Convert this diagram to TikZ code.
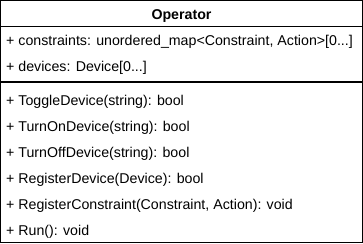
\documentclass[tikz,border=0pt]{standalone}
\usepackage{fontspec}
\setmainfont{Liberation Sans}
\begin{document}
\begin{tikzpicture}[x=1pt,y=-1pt,
  member/.style={anchor=west,inner sep=0pt,font=\fontsize{14.2}{16}\selectfont},
  title/.style={inner sep=0pt,font=\fontsize{14.2}{16}\selectfont\bfseries},
  frame/.style={draw=black,line width=1.3pt}]
  \useasboundingbox (0,0) rectangle (363,243);
  % class box with header and compartment separators
  \draw[frame,fill=white] (0.6,0.6) rectangle (362.4,242.4);
  \draw[frame] (0.6,26.3) -- (362.4,26.3);
  \draw[frame] (0.6,82) -- (362.4,82);
  % class name
  \node[title] (name) at (181.5,16) {Operator};
  % attributes
  \node[member] (a1) at (6,42) {+ constraints: unordered\_map<Constraint, Action>[0...]};
  \node[member] (a2) at (6,68) {+ devices: Device[0...]};
  % operations
  \node[member] (m1) at (6,102) {+ ToggleDevice(string): bool};
  \node[member] (m2) at (6,128) {+ TurnOnDevice(string): bool};
  \node[member] (m3) at (6,154) {+ TurnOffDevice(string): bool};
  \node[member] (m4) at (6,180) {+ RegisterDevice(Device): bool};
  \node[member] (m5) at (6,206) {+ RegisterConstraint(Constraint, Action): void};
  \node[member] (m6) at (6,232) {+ Run(): void};
\end{tikzpicture}
\end{document}
